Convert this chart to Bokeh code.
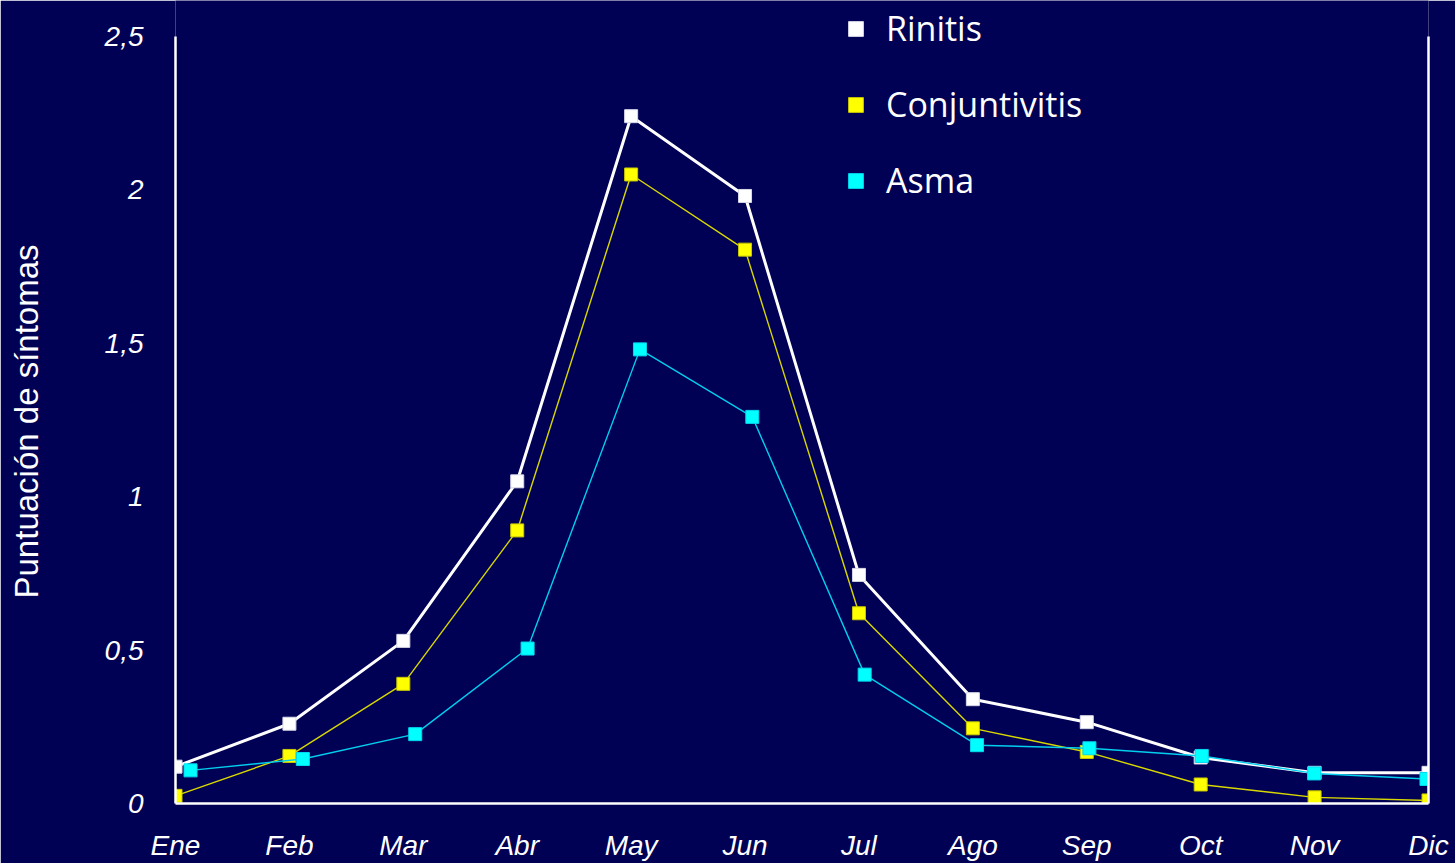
from bokeh.plotting import figure
from bokeh.models import (ColumnDataSource, Range1d, LinearAxis, FixedTicker,
                          Legend, LegendItem, Title)
from bokeh.embed import file_html
from bokeh.resources import INLINE

# ---------------- data ----------------
months = ["Ene", "Feb", "Mar", "Abr", "May", "Jun", "Jul", "Ago", "Sep", "Oct", "Nov", "Dic"]
rinitis = [0.12, 0.26, 0.53, 1.05, 2.24, 1.98, 0.745, 0.34, 0.265, 0.15, 0.10, 0.10]
conjuntivitis = [0.025, 0.155, 0.39, 0.89, 2.05, 1.805, 0.62, 0.245, 0.168, 0.062, 0.02, 0.01]
asma = [0.108, 0.145, 0.226, 0.505, 1.48, 1.26, 0.42, 0.19, 0.18, 0.155, 0.098, 0.08]
y_ticks = [0, 0.5, 1, 1.5, 2, 2.5]
y_tick_labels = ["0", "0,5", "1", "1,5", "2", "2,5"]
series_names = ["Rinitis", "Conjuntivitis", "Asma"]
y_title = "Puntuación de síntomas"

idx = list(range(len(months)))
src = ColumnDataSource(dict(x=idx, rinitis=rinitis, conj=conjuntivitis, asma=asma))

BG = "#000055"
p = figure(width=1455, height=863, output_backend="svg", toolbar_location=None,
           x_range=Range1d(0, 11), y_range=Range1d(0, 2.617),
           min_border_left=175, min_border_right=27, min_border_top=0, min_border_bottom=58,
           background_fill_color=BG, border_fill_color=BG, outline_line_color=None)
# the Asma series in the original is drawn on a slightly shifted month scale
p.extra_x_ranges = {"asma": Range1d(-0.1335, 11.018)}

p.xgrid.visible = False
p.ygrid.visible = False

# axes styling
xa = p.xaxis[0]
xa.ticker = FixedTicker(ticks=idx)
xa.major_label_overrides = {i: m for i, m in zip(idx, months)}
ya = p.yaxis[0]
ya.ticker = FixedTicker(ticks=y_ticks)
ya.bounds = (0, 2.5)
ya.major_label_overrides = {t: l for t, l in zip(y_ticks, y_tick_labels)}
# blank label only used to widen the axis panel so the title sits further left
ya.axis_label = "\u00a0"
ya.axis_label_text_font_size = "10px"
ya.axis_label_standoff = 42
for ax in (xa, ya):
    ax.axis_line_color = "white"
    ax.axis_line_width = 2.5
    ax.major_tick_line_color = None
    ax.minor_tick_line_color = None
    ax.major_label_text_color = "white"
    ax.major_label_text_font = "Liberation Sans"
    ax.major_label_text_font_style = "italic"
    ax.major_label_text_font_size = "28px"
xa.major_label_standoff = 20
ya.major_label_standoff = 26

ra = LinearAxis(ticker=FixedTicker(ticks=[]), axis_line_color="white", axis_line_width=2.5,
                major_tick_line_color=None, minor_tick_line_color=None,
                major_label_text_font_size="0px", major_label_standoff=0, bounds=(0, 2.5))
p.add_layout(ra, "right")

# y axis title (as a left title so it can be placed on the 0..2.5 span)
yt = Title(text=y_title, align="left", offset=205, standoff=2,
           text_font="Liberation Sans", text_font_style="normal", text_font_size="33px",
           text_color="white")
p.add_layout(yt, "left")

# series
r_line = p.line("x", "rinitis", source=src, line_color="white", line_width=3)
r_pts = p.scatter("x", "rinitis", source=src, marker="square", size=13,
                  fill_color="white", line_color="#d8d8e8", line_width=1)
c_line = p.line("x", "conj", source=src, line_color="#d8d800", line_width=1.4)
c_pts = p.scatter("x", "conj", source=src, marker="square", size=13,
                  fill_color="#ffff00", line_color="#c8c800", line_width=1)
a_line = p.line("x", "asma", source=src, line_color="#00cfee", line_width=1.4, x_range_name="asma")
a_pts = p.scatter("x", "asma", source=src, marker="square", size=13,
                  fill_color="#00ffff", line_color="#00d8f0", line_width=1, x_range_name="asma")

legend = Legend(items=[LegendItem(label=series_names[0], renderers=[r_pts]),
                       LegendItem(label=series_names[1], renderers=[c_pts]),
                       LegendItem(label=series_names[2], renderers=[a_pts])],
                location=(662, 600), orientation="vertical",
                glyph_width=37, glyph_height=37, label_height=40, spacing=30,
                label_standoff=12, padding=0, margin=0,
                label_text_color="white", label_text_font="Open Sans",
                label_text_font_size="34px",
                background_fill_alpha=0, border_line_alpha=0)
p.add_layout(legend, "center")

open("out.html", "w").write(file_html(p, INLINE))
